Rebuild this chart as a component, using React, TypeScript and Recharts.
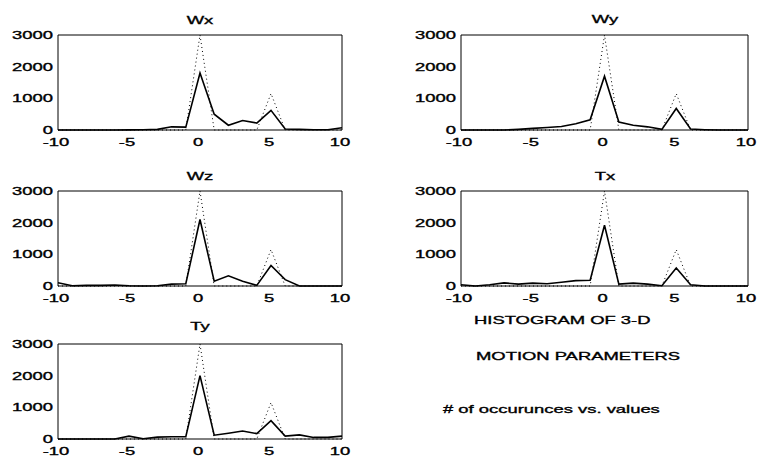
// Histogram of 3-D motion parameters: five small line panels plus a caption block
import React from "react";
import { LineChart, Line, XAxis, YAxis, ReferenceArea } from "recharts";

const xValues = [-10, -9, -8, -7, -6, -5, -4, -3, -2, -1, 0, 1, 2, 3, 4, 5, 6, 7, 8, 9, 10];
const expected = [0, 0, 0, 0, 0, 0, 0, 0, 0, 0, 3000, 0, 0, 0, 0, 1150, 0, 0, 0, 0, 0];

const wx = [0, 0, 0, 0, 0, 5, 10, 20, 100, 90, 1800, 500, 150, 300, 220, 620, 30, 20, 10, 10, 70];
const wy = [0, 0, 0, 0, 20, 50, 80, 110, 200, 320, 1700, 250, 150, 100, 20, 680, 30, 10, 0, 0, 0];
const wz = [100, 10, 20, 20, 30, 10, 0, 10, 60, 70, 2100, 150, 320, 150, 20, 650, 200, 0, 0, 0, 0];
const tx = [40, 0, 40, 100, 60, 90, 70, 120, 170, 180, 1920, 60, 90, 60, 10, 570, 40, 0, 0, 0, 0];
const ty = [0, 0, 0, 0, 0, 90, 10, 60, 70, 70, 2000, 120, 180, 250, 170, 580, 90, 130, 50, 50, 90];

const xTicks = [-10, -5, 0, 5, 10];
const yTicks = [0, 1000, 2000, 3000];

const FONT = "'Liberation Sans', Arial, Helvetica, sans-serif";
const FS = 11.5;
const STRETCH = 1.6;

const YTick = (props: any) => {
  const { x, y, payload } = props;
  return (
    <g transform={`translate(${x},${y})`}>
      <text
        transform={`scale(${STRETCH},1)`}
        textAnchor="end"
        dy="0.35em"
        fontSize={FS}
        fontFamily={FONT}
        fill="#000"
        stroke="#000"
        strokeWidth={0.35}
      >
        {payload.value}
      </text>
    </g>
  );
};

const XTick = (props: any) => {
  const { x, y, payload } = props;
  return (
    <g transform={`translate(${x - 2},${y})`}>
      <text
        transform={`scale(${STRETCH},1)`}
        textAnchor="middle"
        dy="0.71em"
        fontSize={FS}
        fontFamily={FONT}
        fill="#000"
        stroke="#000"
        strokeWidth={0.35}
      >
        {payload.value}
      </text>
    </g>
  );
};

const StretchText = ({ cx, left, cy, text }: { cx?: number; left?: number; cy: number; text: string }) => (
  <div
    style={{
      position: "absolute",
      left: cx !== undefined ? cx : left,
      top: cy - 5.7,
      fontFamily: FONT,
      fontSize: FS,
      lineHeight: 1,
      whiteSpace: "nowrap",
      color: "#000",
      WebkitTextStroke: "0.35px #000",
      transformOrigin: cx !== undefined ? "center" : "left",
      transform: cx !== undefined ? `translateX(-50%) scaleX(${STRETCH})` : `scaleX(${STRETCH})`,
    }}
  >
    {text}
  </div>
);

interface PanelProps {
  title: string;
  values: number[];
  left: number; // plot box left
  top: number; // plot box top
  width: number;
  titleGap: number;
}

const Y_AXIS_W = 58;
const BOX_H = 95;

const Panel: React.FC<PanelProps> = ({ title, values, left, top, width, titleGap }) => {
  const data = xValues.map((x, i) => ({ x, observed: values[i], expected: expected[i] }));
  return (
    <>
      <StretchText cx={left + width / 2} cy={top - titleGap} text={title} />
      <div style={{ position: "absolute", left: left - Y_AXIS_W, top: top - 35 }}>
        <LineChart
          width={Y_AXIS_W + width + 10}
          height={35 + BOX_H + 25}
          data={data}
          margin={{ top: 35, right: 10, bottom: 0, left: 0 }}
        >
          <XAxis
            type="number"
            dataKey="x"
            domain={[-10, 10]}
            ticks={xTicks}
            height={25}
            axisLine={false}
            tickLine={false}
            tickSize={0}
            tickMargin={8}
            tick={<XTick />}
            interval={0}
          />
          <YAxis
            type="number"
            domain={[0, 3000]}
            ticks={yTicks}
            width={Y_AXIS_W}
            axisLine={false}
            tickLine={false}
            tickSize={0}
            tickMargin={5}
            tick={<YTick />}
            interval={0}
          />
          <ReferenceArea x1={-10} x2={10} y1={0} y2={3000} fill="none" stroke="#000" strokeWidth={1} fillOpacity={0} />
          <Line
            type="linear"
            dataKey="expected"
            stroke="#000"
            strokeWidth={1}
            strokeDasharray="1 3"
            dot={false}
            isAnimationActive={false}
          />
          <Line
            type="linear"
            dataKey="observed"
            stroke="#000"
            strokeWidth={1.6}
            dot={false}
            isAnimationActive={false}
          />
        </LineChart>
      </div>
    </>
  );
};

export default function App() {
  return (
    <div style={{ position: "absolute", left: 0, top: 0, width: 758, height: 457, background: "#fff", overflow: "hidden" }}>
      <Panel title="Wx" values={wx} left={58} top={35} width={284} titleGap={14} />
      <Panel title="Wy" values={wy} left={461} top={35} width={287} titleGap={15} />
      <Panel title="Wz" values={wz} left={58} top={191} width={284} titleGap={14} />
      <Panel title="Tx" values={tx} left={461} top={191} width={287} titleGap={14} />
      <Panel title="Ty" values={ty} left={58} top={344} width={284} titleGap={17} />
      <StretchText left={474} cy={321} text="HISTOGRAM OF 3-D" />
      <StretchText left={476} cy={357} text="MOTION PARAMETERS" />
      <StretchText left={443} cy={410} text="# of occurunces vs. values" />
    </div>
  );
}
